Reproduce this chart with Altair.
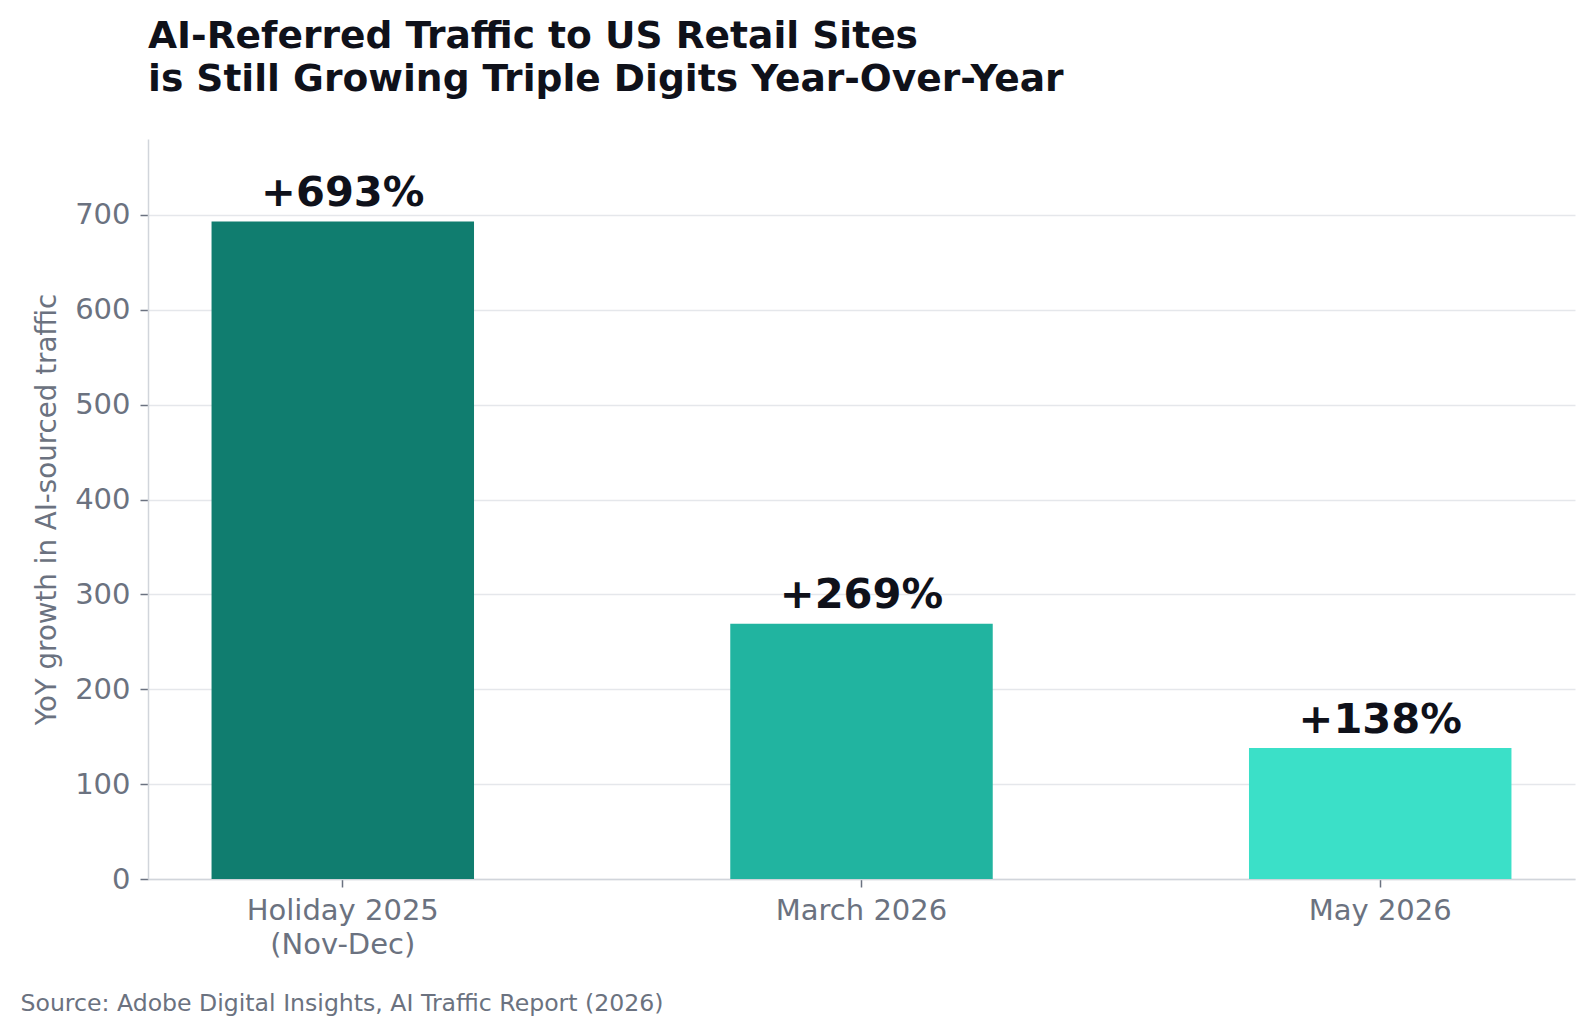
import altair as alt
import pandas as pd

categories = ["Holiday 2025\n(Nov-Dec)", "March 2026", "May 2026"]
values = [693, 269, 138]
value_labels = ["+693%", "+269%", "+138%"]
bar_colors = ["#107D6F", "#21B4A0", "#3BE0C8"]

df = pd.DataFrame({"period": categories, "growth": values, "label": value_labels})

FONT = "DejaVu Sans"
DARK = "#0F111A"
GREY = "#6B7280"

x_enc = alt.X(
    "period:N",
    sort=None,
    scale=alt.Scale(paddingInner=0.494, paddingOuter=0.1225),
    axis=alt.Axis(
        title="Source: Adobe Digital Insights, AI Traffic Report (2026)",
        titleFont=FONT, titleFontSize=23.6, titleFontWeight="normal", titleColor=GREY,
        titleAnchor="start", titleAlign="left", titleBaseline="alphabetic",
        titleX=-128, titleY=131, titleLimit=0,
        labelExpr="split(datum.value, '\\n')",
        labelAngle=0, labelFont=FONT, labelFontSize=29, labelColor=GREY,
        labelLineHeight=34, labelPadding=9, labelLimit=0,
        tickSize=8, tickWidth=1.5, tickColor=GREY,
        domainColor="#D1D5DB", domainWidth=1.5,
        grid=False,
    ),
)

y_enc = alt.Y(
    "growth:Q",
    scale=alt.Scale(domain=[0, 780], nice=False),
    axis=alt.Axis(
        title="YoY growth in AI-sourced traffic",
        titleFont=FONT, titleFontSize=27.7, titleFontWeight="normal", titleColor=GREY,
        titlePadding=13, titleLimit=0,
        values=[0, 100, 200, 300, 400, 500, 600, 700],
        labelFont=FONT, labelFontSize=29, labelColor=GREY, labelPadding=10,
        tickSize=8, tickWidth=1.5, tickColor=GREY,
        domainColor="#D1D5DB", domainWidth=1.5,
        grid=True, gridColor="#E5E7EB", gridWidth=1.5,
    ),
)

bars = alt.Chart(df).mark_bar().encode(
    x=x_enc,
    y=y_enc,
    color=alt.Color("period:N", sort=None,
                    scale=alt.Scale(domain=categories, range=bar_colors), legend=None),
)

text = alt.Chart(df).mark_text(
    font=FONT, fontSize=41.6, fontWeight="bold", color=DARK,
    baseline="alphabetic", align="center", dy=-15.5,
).encode(
    x=alt.X("period:N", sort=None),
    y=alt.Y("growth:Q"),
    text="label:N",
)

chart = (
    alt.layer(bars, text)
    .properties(
        width=1427,
        height=740,
        background="white",
        autosize=alt.AutoSizeParams(type="none"),
        padding={"left": 140, "top": 131, "right": 10, "bottom": 145},
        title=alt.TitleParams(
            text=["AI-Referred Traffic to US Retail Sites",
                  "is Still Growing Triple Digits Year-Over-Year"],
            anchor="start", frame="group",
            font=FONT, fontSize=37.6, fontWeight="bold", color=DARK,
            lineHeight=43, offset=40,
        ),
    )
    .configure_view(stroke="transparent", strokeWidth=0)
)

chart.save("out.html", embed_options={"renderer": "svg", "actions": False})
